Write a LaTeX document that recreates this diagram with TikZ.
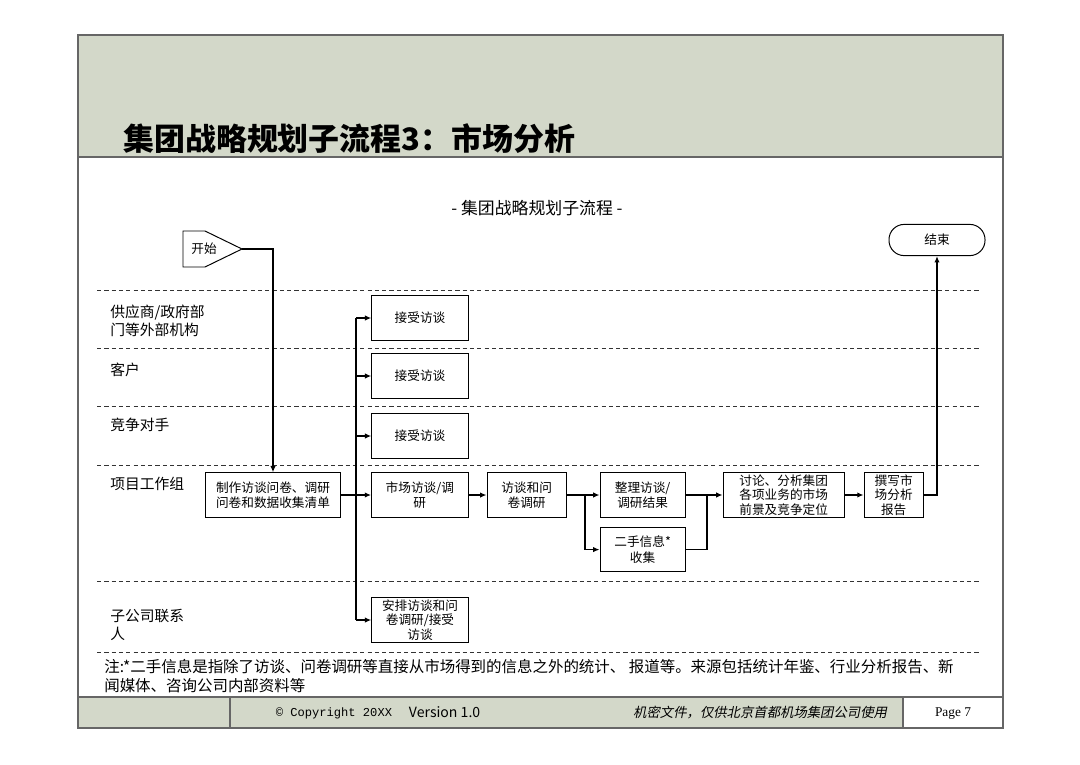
\documentclass[tikz,border=0pt]{standalone}
\usepackage{fontspec}
\setmainfont{Noto Sans CJK SC}
\newfontfamily\mktslant[FakeSlant=0.2]{Noto Sans CJK SC}
\newfontfamily\mktmono{Liberation Mono}
\newfontfamily\mktserif{Liberation Serif}
\usetikzlibrary{positioning, arrows.meta}
\definecolor{hdrfill}{RGB}{211,216,201}
\definecolor{framegray}{gray}{0.4}
\tikzset{
  mktbox/.style   = {draw, minimum height=1.11cm, align=center, inner sep=0.5pt,
                     font=\fontsize{9}{11}\selectfont, line width=0.7pt},
  mktbox3/.style  = {mktbox, font=\fontsize{9}{10.4}\selectfont},
  mktarrow/.style = {-{Latex[length=4.5pt,width=3.8pt]}, line width=0.9pt},
  mktline/.style  = {line width=0.9pt},
  mktlane/.style  = {dashed, dash pattern=on 3pt off 2.2pt, line width=0.7pt, draw=black!80},
  mktlbl/.style   = {anchor=west, align=left, inner sep=0pt,
                     font=\fontsize{10.5}{12.8}\selectfont}
}

\begin{document}
\begin{tikzpicture}[x=0.025cm, y=-0.025cm]
  \useasboundingbox (0,0) rectangle (1080,764);

  % page frame, header and footer
  \fill[hdrfill] (78,35) rectangle (1003,157);
  \draw[framegray, line width=1.5pt] (78,157) -- (1003,157);
  \fill[hdrfill] (78,697) rectangle (903,728);
  \draw[framegray, line width=1pt] (78,697) -- (1003,697)
        (230,697) -- (230,728) (903,697) -- (903,728);
  \draw[framegray, line width=1.2pt] (78,35) rectangle (1003,728);

  \node[anchor=base west, inner sep=0pt, font=\fontsize{22}{26}\selectfont\bfseries]
        (title) at (123,150) {集团战略规划子流程3：市场分析};
  \node[font=\fontsize{12}{14}\selectfont] (subtitle) at (537,208)
        {- 集团战略规划子流程 -};

  % swim lanes
  \foreach \ly in {290,348,406,465,581,652}
    \draw[mktlane] (97,\ly) -- (979,\ly);

  \node[mktlbl] (lsup)  at (110,321) {供应商/政府部\\门等外部机构};
  \node[mktlbl] (lcus)  at (110,370) {客户};
  \node[mktlbl] (lcomp) at (110,425) {竞争对手};
  \node[mktlbl] (lteam) at (110,484) {项目工作组};
  \node[mktlbl] (lsub)  at (110,625) {子公司联系\\人};

  % start / end
  \draw[line width=0.7pt] (183,231) -- (205,231) -- (242,249) -- (205,267)
        -- (183,267) -- cycle;
  \node[font=\fontsize{9}{11}\selectfont] (start) at (204,249) {开始};
  \coordinate (starttip) at (242,249);
  \node[draw, rounded corners=0.38cm, minimum width=2.4cm, minimum height=0.78cm,
        line width=0.7pt, font=\fontsize{9}{11}\selectfont] (finish) at (937,240) {结束};

  % process boxes
  \node[mktbox, minimum width=3.38cm] (prep) at (273,495)
        {制作访谈问卷、调研\\问卷和数据收集清单};
  \node[mktbox, minimum width=2.41cm, right=0.75cm of prep] (market) {市场访谈/调\\研};
  \node[mktbox, minimum width=1.98cm, right=0.45cm of market] (interview) {访谈和问\\卷调研};
  \node[mktbox, minimum width=2.13cm, right=0.82cm of interview] (sort) {整理访谈/\\调研结果};
  \node[mktbox, minimum width=2.13cm, below=0.23cm of sort] (second) {二手信息*\\收集};
  \node[mktbox3, minimum width=3.03cm, right=0.92cm of sort] (discuss)
        {讨论、分析集团\\各项业务的市场\\前景及竞争定位};
  \node[mktbox3, minimum width=1.48cm, right=0.47cm of discuss] (report) {撰写市\\场分析\\报告};

  \node[mktbox, minimum width=2.41cm] (acc1) at (420,318) {接受访谈};
  \node[mktbox, minimum width=2.41cm] (acc2) at (420,376) {接受访谈};
  \node[mktbox, minimum width=2.41cm] (acc3) at (420,436) {接受访谈};
  \node[mktbox3, minimum width=2.41cm] (arrange) at (420,620)
        {安排访谈和问\\卷调研/接受\\访谈};

  % connectors
  \coordinate (bus) at (356,495);
  \coordinate (split) at (585,495);
  \coordinate (merge) at (707,495);

  \draw[mktarrow] (starttip) -| (prep.north);
  \draw[mktarrow] (prep.east) -- (market.west);
  \draw[mktline] (bus |- acc1.west) -- (bus |- arrange.west);
  \foreach \n in {acc1,acc2,acc3,arrange}
    \draw[mktarrow] (bus |- \n.west) -- (\n.west);
  \draw[mktarrow] (market) -- (interview);
  \draw[mktarrow] (interview) -- (sort);
  \draw[mktarrow] (split) |- (second.west);
  \draw[mktline] (sort.east) -- (merge);
  \draw[mktline] (second.east) -| (merge);
  \draw[mktarrow] (merge) -- (discuss.west);
  \draw[mktarrow] (discuss) -- (report);
  \draw[mktarrow] (report.east) -| (finish.south);

  % note
  \node[anchor=north west, align=left, inner sep=0pt,
        font=\fontsize{11}{13.5}\selectfont] (note) at (104,659)
        {注:*二手信息是指除了访谈、问卷调研等直接从市场得到的信息之外的统计、 报道等。来源包括统计年鉴、行业分析报告、新\\闻媒体、咨询公司内部资料等};

  % footer texts
  \node[anchor=east, font=\mktmono\fontsize{8.6}{10}\selectfont] (copy) at (397,713)
        {© Copyright 20XX};
  \node[anchor=west, font=\fontsize{10}{12}\selectfont] (ver) at (404,712) {Version 1.0};
  \node[anchor=east, font=\mktslant\fontsize{9.5}{11}\selectfont] (conf) at (892,713)
        {机密文件，仅供北京首都机场集团公司使用};
  \node[font=\mktserif\fontsize{9.5}{11}\selectfont] (page) at (953,714) {Page 7};
\end{tikzpicture}
\end{document}
